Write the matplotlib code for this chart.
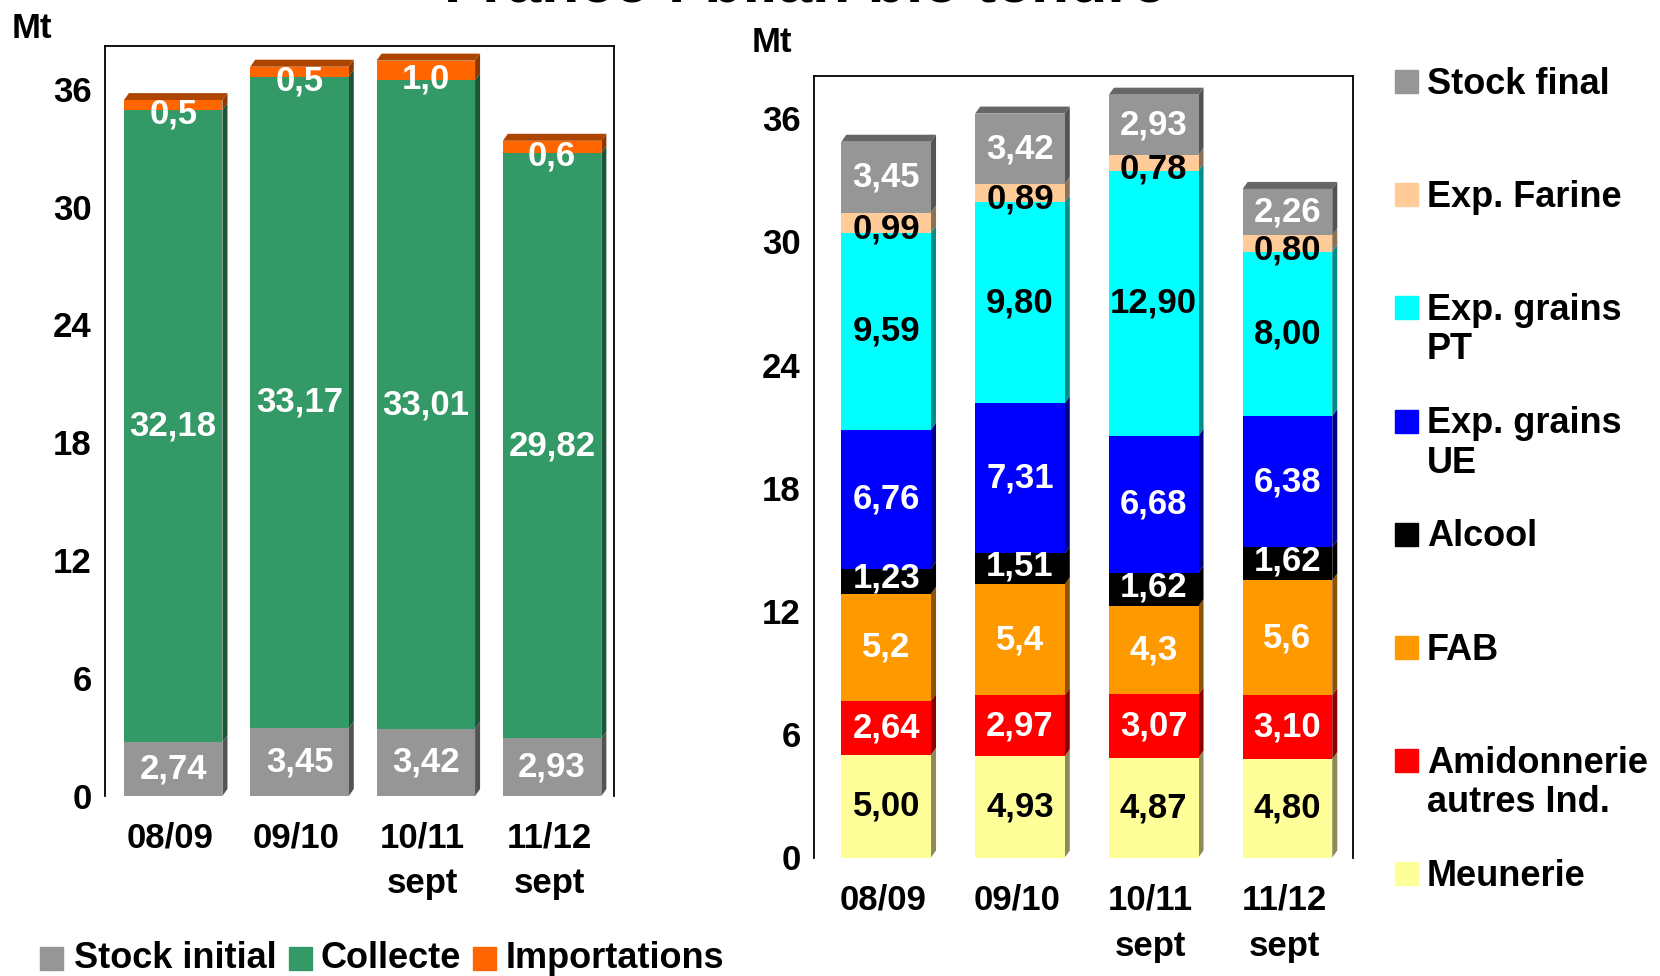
import numpy as np
import matplotlib
matplotlib.use("Agg")
import matplotlib.pyplot as plt
from matplotlib.patches import Polygon, Rectangle
import matplotlib.colors as mcolors
import matplotlib.transforms as mtransforms

W, H = 1660, 976
plt.rcParams['font.family'] = ['Liberation Sans', 'DejaVu Sans']
plt.rcParams['font.weight'] = 'bold'

campagnes = ['08/09', '09/10', '10/11\nsept', '11/12\nsept']

# ressources (Mt)
stock_initial = [2.74, 3.45, 3.42, 2.93]
collecte = [32.18, 33.17, 33.01, 29.82]
importations = [0.5, 0.5, 1.0, 0.6]

# emplois (Mt)
meunerie = [5.00, 4.93, 4.87, 4.80]
amidonnerie = [2.64, 2.97, 3.07, 3.10]
fab = [5.2, 5.4, 4.3, 5.6]
alcool = [1.23, 1.51, 1.62, 1.62]
exp_ue = [6.76, 7.31, 6.68, 6.38]
exp_pt = [9.59, 9.80, 12.90, 8.00]
exp_farine = [0.99, 0.89, 0.78, 0.80]
stock_final = [3.45, 3.42, 2.93, 2.26]

noms_res = ['Stock initial', 'Collecte', 'Importations']
noms_emp = ['Meunerie', 'Amidonnerie\nautres Ind.', 'FAB', 'Alcool',
            'Exp. grains\nUE', 'Exp. grains\nPT', 'Exp. Farine', 'Stock final']

FS = 25


def px(x, y):
    # pixel (from top-left) -> figure fraction
    return x / W, 1 - y / H


def shade(c, f):
    r, g, b = mcolors.to_rgb(c)
    return (r * f, g * f, b * f)


def fmt(v, nd):
    return f"{v:.{nd}f}".replace('.', ',')


def bars_3d(ax, series, colors, tcolors, decimals, width, shifts, depth=(5, 7)):
    n = len(series[0])
    x = np.arange(n)
    x0, x1 = ax.get_xlim()
    y0, y1 = ax.get_ylim()
    bb = ax.get_window_extent()
    dx = depth[0] * (x1 - x0) / bb.width
    dy = depth[1] * (y1 - y0) / bb.height
    per_px = (y1 - y0) / bb.height
    bottom = np.zeros(n)
    for vals, c, tc, nd, sh in zip(series, colors, tcolors, decimals, shifts):
        vals = np.asarray(vals)
        ax.bar(x, vals, width, bottom=bottom, color=c, zorder=2, linewidth=0)
        for i in range(n):
            r = x[i] + width / 2
            b, t = bottom[i], bottom[i] + vals[i]
            ax.add_patch(Polygon([(r, b), (r + dx, b + dy), (r + dx, t + dy), (r, t)],
                                 closed=True, color=shade(c, 0.55), lw=0, zorder=1.5))
            ax.text(x[i], (b + t) / 2 - sh * per_px, fmt(vals[i], nd), ha='center',
                    va='center', color=tc, fontsize=FS, zorder=5)
        bottom = bottom + vals
    ctop = colors[-1]
    for i in range(n):
        l, r, t = x[i] - width / 2, x[i] + width / 2, bottom[i]
        ax.add_patch(Polygon([(l, t), (l + dx, t + dy), (r + dx, t + dy), (r, t)],
                             closed=True, color=shade(ctop, 0.68), lw=0, zorder=1.5))


def style_axes(ax, ymax, xpad):
    ax.set_xlim(-0.54, 3.49)
    ax.set_ylim(0, ymax)
    ax.set_yticks(range(0, 37, 6))
    ax.set_xticks(np.arange(4), campagnes)
    ax.tick_params(axis='both', length=0, labelsize=FS)
    ax.tick_params(axis='y', pad=9.5)
    ax.tick_params(axis='x', pad=xpad)
    shift = mtransforms.ScaledTranslation(-3 / 100, 0, fig.dpi_scale_trans)
    for lab in ax.get_xticklabels():
        lab.set_linespacing(1.5)
        lab.set_transform(lab.get_transform() + shift)
    ax.spines['bottom'].set_visible(False)
    for s in ('left', 'top', 'right'):
        ax.spines[s].set_linewidth(1.3)


fig = plt.figure(figsize=(W / 100, H / 100), dpi=100)
fig.patch.set_facecolor('white')

# left : ressources
l0, t0 = px(105, 45.5)
l1, b1 = px(614, 796)
ax1 = fig.add_axes([l0, b1, l1 - l0, t0 - b1])
style_axes(ax1, 38.2, 18)
bars_3d(ax1, [stock_initial, collecte, importations],
        ['#969696', '#339966', '#FF6600'],
        ['white', 'white', 'white'], [2, 2, 1], 0.78, [0, 0, 9])

# right : emplois
l0, t0 = px(814, 76)
l1, b1 = px(1353, 857.5)
ax2 = fig.add_axes([l0, b1, l1 - l0, t0 - b1])
style_axes(ax2, 38.06, 19)
cols_emp = ['#FFFF99', '#FF0000', '#FF9900', '#000000',
            '#0000FF', '#00FFFF', '#FFCC99', '#969696']
txt_emp = ['black', 'white', 'white', 'white', 'white', 'black', 'black', 'white']
bars_3d(ax2, [meunerie, amidonnerie, fab, alcool, exp_ue, exp_pt, exp_farine, stock_final],
        cols_emp, txt_emp, [2, 2, 1, 2, 2, 2, 2, 2], 0.67, [0, 0, 0, -3, 0, 0, 6, 0])

# titles / units
fig.text(*px(805, 2.5), 'France : bilan blé tendre', ha='center', va='baseline', fontsize=45)
fig.text(*px(12, 29), 'Mt', ha='left', va='center', fontsize=FS)
fig.text(*px(752, 42), 'Mt', ha='left', va='center', fontsize=FS)

# legend left (horizontal)
sq = 23
for nom, c, xs, xt in zip(noms_res, ['#969696', '#339966', '#FF6600'],
                          [40, 289, 473], [74, 320, 506]):
    fx, fy = px(xs, 958 + sq / 2)
    fig.patches.append(Rectangle((fx, fy), sq / W, sq / H, transform=fig.transFigure,
                                 color=c, figure=fig))
    fig.text(*px(xt, 958), nom, ha='left', va='center', fontsize=26)

# legend right (vertical, top = stock final)
for k, (nom, c) in enumerate(zip(noms_emp[::-1], cols_emp[::-1])):
    yc = 81.5 + k * 113.2
    fx, fy = px(1395, yc + sq / 2)
    fig.patches.append(Rectangle((fx, fy), sq / W, sq / H, transform=fig.transFigure,
                                 color=c, figure=fig))
    fig.text(*px(1427, yc - 15), nom, ha='left', va='top', fontsize=26, linespacing=1.17)

fig.savefig('out.png', dpi=100, facecolor='white')
